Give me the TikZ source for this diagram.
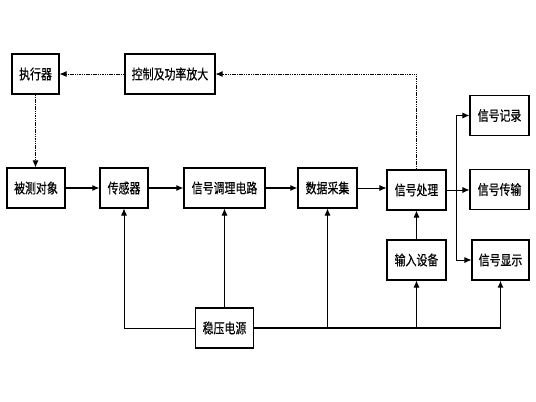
\documentclass[tikz,border=0pt]{standalone}
\usepackage{fontspec}
\usetikzlibrary{arrows.meta, positioning, calc}
\newfontfamily\cjk[FakeStretch=0.78, FakeBold=0.4]{Noto Sans CJK SC}

\begin{document}
\begin{tikzpicture}[
  x=1pt, y=-1pt,
  every node/.style={font=\cjk\fontsize{14}{14}\selectfont},
  blk/.style={rectangle, draw, line width=1.1pt, minimum height=40pt, inner sep=0pt},
  flow/.style={-{Latex[length=7pt,width=6pt]}, line width=1.2pt},
  ctl/.style={-{Latex[length=7pt,width=6pt]}, line width=0.9pt, dashed, dash pattern=on 1.5pt off 0.8pt},
  pwr/.style={-{Latex[length=7pt,width=6pt]}, line width=0.8pt},
]
\useasboundingbox (0,0) rectangle (536,402);
% top row
\node[blk, minimum width=47pt] (act) at (35.5,74) {执行器};
\node[blk, minimum width=90pt] (ctrl) at (170,74) {控制及功率放大};
% main row
\node[blk, minimum width=58pt] (obj) at (36,188) {被测对象};
\node[blk, minimum width=48pt] (sens) at (124,188) {传感器};
\node[blk, minimum width=81pt] (cond) at (224.5,188) {信号调理电路};
\node[blk, minimum width=59pt] (daq) at (327.5,188) {数据采集};
\node[blk, minimum width=59pt] (proc) at (416.5,190) {信号处理};
% outputs
\node[blk, minimum width=59pt] (rec) at (499.5,115.5) {信号记录};
\node[blk, minimum width=59pt] (tx) at (499.5,189.5) {信号传输};
\node[blk, minimum width=57pt] (disp) at (500.5,260) {信号显示};
\node[blk, minimum width=59pt] (inp) at (416.5,260) {输入设备};
\node[blk, minimum width=58pt] (psu) at (224.5,328) {稳压电源};
\coordinate (split) at (456,190);
\coordinate (tapdaq) at (daq.south |- psu.east);
\coordinate (tapinp) at (inp.south |- psu.east);

\draw[flow] (obj) -- (sens);
\draw[flow] (sens) -- (cond);
\draw[flow] (cond) -- (daq);
\draw[pwr] (daq.east) -- (proc.west |- daq.east);
\draw[pwr] (proc.east |- split) -- (split) |- (rec.west);
\draw[pwr] (split) -- (tx.west |- split);
\draw[pwr] (split) |- (disp.west);
\draw[ctl] (proc.north) |- (ctrl.east);
\draw[ctl] (ctrl) -- (act);
\draw[ctl] (act.south) -- (act.south |- obj.north);
\draw[pwr] (inp) -- (proc);
% power supply
\draw[pwr] (psu.west) -| (sens.south);
\draw[pwr] (psu.north) -- (cond.south -| psu.north);
\draw[pwr, line width=1.3pt] (psu.east) -| (disp.south);
\draw[pwr] (tapdaq) -- (daq.south);
\draw[pwr] (tapinp) -- (inp.south);
\end{tikzpicture}
\end{document}
